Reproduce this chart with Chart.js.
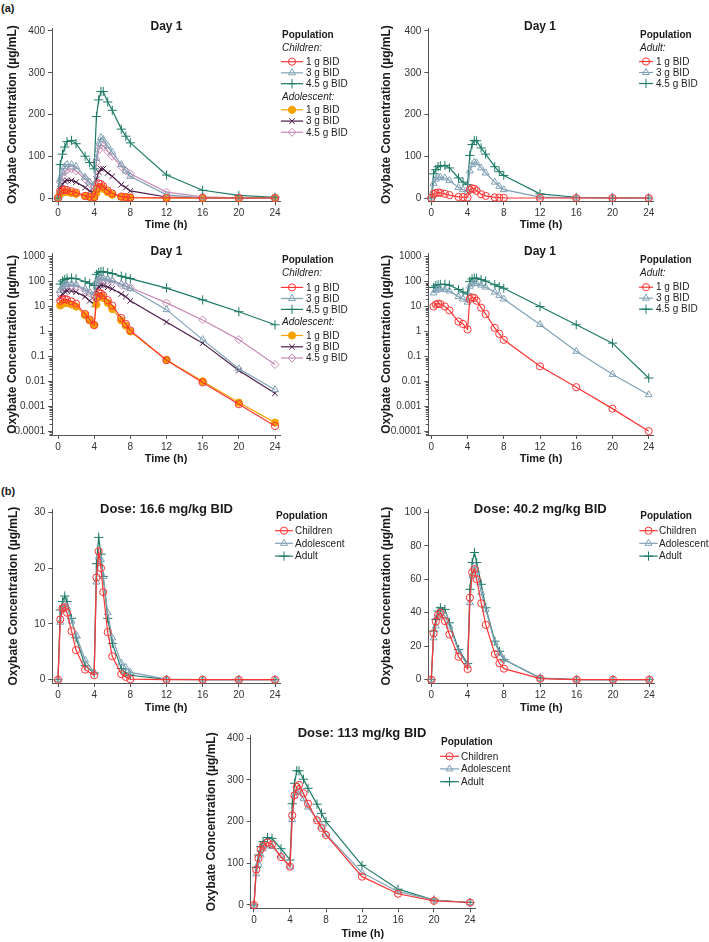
<!DOCTYPE html>
<html lang="en">
<head>
<meta charset="UTF-8">
<script src="https://cdn.jsdelivr.net/npm/chart.js"></script>
<title>Oxybate concentration</title>
<style>
  body { margin: 0; background: #fff; width: 709px; height: 942px; position: relative; overflow: hidden; }
  .lab { position: absolute; font: bold 11px "Liberation Sans", Arial, sans-serif; color: #1a1a1a; }
</style>
</head>
<body>
<div class="lab" style="left:1px;top:2px">(a)</div>
<div class="lab" style="left:1px;top:485px">(b)</div>
<script>
// ---- data ----
const timeA = [0, 0.25, 0.5, 0.75, 1, 1.5, 2, 3, 3.5, 4, 4.25, 4.5, 4.75, 5, 5.5, 6, 7, 7.5, 8, 12, 16, 20, 24];
const timeB = [0, 0.25, 0.5, 0.75, 1, 1.5, 2, 3, 4, 4.25, 4.5, 4.75, 5, 5.5, 6, 7, 7.5, 8, 12, 16, 20, 24];

// Day 1, fixed doses (µg/mL)
const child1g  = [0, 17, 19, 20, 19, 16, 13, 5, 3, 1.8, 22, 35, 33, 28, 18, 11, 3.5, 2, 1.1, 0.07, 0.009, 0.0012, 0.00016];
const child3g  = [0, 45, 62, 75, 80, 80, 75, 50, 38, 28, 95, 130, 145, 140, 125, 110, 80, 65, 52, 7.5, 0.47, 0.032, 0.0046];
const child45g = [0, 80, 105, 122, 135, 138, 130, 100, 85, 70, 195, 235, 255, 255, 230, 210, 165, 148, 132, 55, 18.5, 6.2, 1.85];
const adol1g   = [0, 11, 13, 14, 14, 12, 10, 4.5, 2.8, 1.8, 12, 25, 26, 22, 14, 8, 2.8, 1.7, 1.0, 0.072, 0.010, 0.0014, 0.00022];
const adol3g   = [0, 22, 33, 40, 42, 42, 38, 25, 17, 12, 45, 62, 70, 70, 60, 52, 32, 25, 17, 2.4, 0.34, 0.027, 0.0033];
const adol45g  = [0, 38, 52, 63, 68, 70, 65, 45, 35, 28, 85, 115, 128, 125, 112, 100, 75, 65, 58, 14, 2.9, 0.47, 0.047];
const adult1g  = [0, 10, 12, 13, 12.5, 10, 7, 2.5, 2.0, 1.2, 20, 23, 22, 17, 9, 5, 1.4, 0.8, 0.46, 0.04, 0.0058, 0.0008, 0.0001];
const adult3g  = [0, 35, 45, 50, 50, 48, 42, 25, 20, 15, 65, 80, 86, 84, 72, 60, 38, 28, 20, 1.9, 0.16, 0.019, 0.0029];
const adult45g = [0, 58, 68, 75, 77, 78, 72, 48, 38, 32, 102, 128, 138, 137, 120, 105, 75, 63, 54, 10, 1.85, 0.34, 0.0135];

// weight-based doses
const d16Child = [0, 10.8, 12.8, 13, 12, 8.7, 5.3, 1.8, 0.8, 18.3, 23, 20, 15.7, 8.5, 4.2, 1, 0.5, 0.1, 0, 0, 0, 0];
const d16Adol  = [0, 10.3, 12.5, 13.5, 13, 10.5, 8, 3.5, 1.3, 17.5, 22, 21.5, 18.5, 12, 7.5, 3, 2.2, 1.3, 0.1, 0, 0, 0];
const d16Adult = [0, 12.5, 14, 15, 14, 11, 7.5, 2.5, 1.2, 20.8, 25.5, 22.5, 18.5, 11, 6.5, 2, 1.2, 0.8, 0.05, 0, 0, 0];
const d40Child = [0, 27.7, 34.7, 38.6, 40, 35, 27, 13.7, 6.4, 49, 64, 66, 60, 45.6, 32.7, 15.3, 9.8, 6.6, 0.6, 0.02, 0, 0];
const d40Adol  = [0, 25, 32, 38, 40, 38, 32, 17, 8.5, 46, 62, 68, 65, 52, 42, 22, 16, 12, 0.8, 0.03, 0, 0];
const d40Adult = [0, 29, 36, 41, 43, 42, 34, 18, 9.6, 54, 70, 76, 70, 57, 43, 23, 17, 12, 1, 0.05, 0, 0];
const d113Child = [0, 85, 112, 133, 142, 150, 145, 115, 92, 215, 263, 283, 288, 268, 243, 203, 185, 168, 68, 27, 10, 6];
const d113Adol  = [0, 75, 98, 120, 135, 142, 140, 118, 93, 205, 262, 270, 272, 255, 235, 205, 188, 170, 78, 32, 12, 6];
const d113Adult = [0, 90, 120, 140, 152, 162, 160, 135, 108, 243, 292, 322, 322, 302, 280, 242, 220, 200, 95, 38, 12, 6];

// ticks
const xTicks = [0, 4, 8, 12, 16, 20, 24];
const ticks400 = [0, 100, 200, 300, 400];
const ticks30 = [0, 10, 20, 30];
const ticks100 = [0, 20, 40, 60, 80, 100];
const logTicks = [0.0001, 0.001, 0.01, 0.1, 1, 10, 100, 1000];

// ---- styles ----
const FONT = '"Liberation Sans", Arial, Helvetica, sans-serif';
Chart.defaults.font.family = FONT;
Chart.defaults.color = '#333';

const RED    = { color: '#ff3434', style: 'circle',   r: 3.6, fill: false };
const BLUE   = { color: '#7fa1b4', style: 'triangle', r: 4,   fill: false };
const GREEN  = { color: '#1d7a66', style: 'cross',    r: 4.6, fill: false };
const ORANGE = { color: '#f5a200', style: 'circle',   r: 3.6, fill: true };
const PURPLE = { color: '#4b1c48', style: 'crossRot', r: 4,   fill: false };
const PINK   = { color: '#c88ab4', style: 'rectRot',  r: 4,   fill: false };

function series(label, times, vals, s, log) {
  return {
    label: label,
    data: times.map((t, i) => ({ x: t, y: (log && vals[i] <= 0) ? null : vals[i] })),
    borderColor: s.color,
    borderWidth: 1.2,
    pointStyle: s.style,
    pointRadius: s.r,
    pointBorderWidth: 1,
    pointBorderColor: s.color,
    pointBackgroundColor: s.fill ? s.color : 'rgba(255,255,255,0)',
    tension: 0,
    clip: 12
  };
}

function daySeries(log) {
  return [
    series('1 g BID', timeA, child1g, RED, log),
    series('3 g BID', timeA, child3g, BLUE, log),
    series('4.5 g BID', timeA, child45g, GREEN, log),
    series('1 g BID', timeA, adol1g, ORANGE, log),
    series('3 g BID', timeA, adol3g, PURPLE, log),
    series('4.5 g BID', timeA, adol45g, PINK, log)
  ];
}
function adultSeries(log) {
  return [
    series('1 g BID', timeA, adult1g, RED, log),
    series('3 g BID', timeA, adult3g, BLUE, log),
    series('4.5 g BID', timeA, adult45g, GREEN, log)
  ];
}
function doseSeries(c, a, d) {
  return [
    series('Children', timeB, c, RED, false),
    series('Adolescent', timeB, a, BLUE, false),
    series('Adult', timeB, d, GREEN, false)
  ];
}

// titles, minor log ticks and the legend
function makeDecor(p) {
  return {
    id: 'decor',
    afterDraw(chart) {
      const ctx = chart.ctx, a = chart.chartArea;
      const ox = p.box[0], oy = p.box[1];
      ctx.save();
      ctx.fillStyle = '#1a1a1a';
      ctx.font = 'bold ' + p.titleSize + 'px ' + FONT;
      ctx.textAlign = 'center';
      ctx.textBaseline = 'middle';
      ctx.fillText(p.title, (p.x0 + p.x24) / 2 - ox, p.titleY - oy);

      if (p.log) {
        const ys = chart.scales.y;
        ctx.strokeStyle = '#555';
        ctx.lineWidth = 1;
        for (let k = -5; k <= 3; k++) {
          for (let m = 2; m <= 9; m++) {
            const v = m * Math.pow(10, k);
            if (v < ys.min || v > ys.max) continue;
            const y = Math.round(ys.getPixelForValue(v)) + 0.5;
            ctx.beginPath();
            ctx.moveTo(a.left - 2.5, y);
            ctx.lineTo(a.left, y);
            ctx.stroke();
          }
        }
      }

      const lg = p.legend;
      ctx.textAlign = 'left';
      lg.rows.forEach(row => {
        const y = row[0] - oy;
        const item = row[1];
        if (typeof item === 'string') {
          ctx.fillStyle = '#1a1a1a';
          ctx.font = (row[2] === 'i' ? 'italic ' : 'bold ') + '10px ' + FONT;
          ctx.fillText(item, lg.x - ox + 1, y);
          return;
        }
        const ds = chart.data.datasets[item];
        const x1 = lg.x - ox, x2 = lg.lineEnd - ox;
        ctx.strokeStyle = ds.borderColor;
        ctx.lineWidth = ds.borderWidth;
        ctx.beginPath();
        ctx.moveTo(x1, y);
        ctx.lineTo(x2, y);
        ctx.stroke();
        ctx.strokeStyle = ds.pointBorderColor;
        ctx.fillStyle = ds.pointBackgroundColor;
        ctx.lineWidth = ds.pointBorderWidth;
        Chart.helpers.drawPoint(ctx, {
          pointStyle: ds.pointStyle, radius: ds.pointRadius, rotation: 0, borderWidth: ds.pointBorderWidth
        }, (x1 + x2) / 2, y);
        ctx.fillStyle = '#222';
        ctx.font = '10px ' + FONT;
        ctx.fillText(ds.label, lg.textX - ox, y + 0.5);
      });
      ctx.restore();
    }
  };
}

function makePanel(p) {
  const cv = document.createElement('canvas');
  cv.width = p.box[2];
  cv.height = p.box[3];
  cv.style.cssText = 'position:absolute;left:' + p.box[0] + 'px;top:' + p.box[1] + 'px;width:' +
    p.box[2] + 'px;height:' + p.box[3] + 'px';
  document.body.appendChild(cv);

  const L = p.x0 - p.gapL, R = p.x24 + 5;
  const T = p.yHi[1] - 3, B = p.yLo[1] + 3.3;
  const pxH = (p.x24 - p.x0) / 24;
  let yMin, yMax;
  if (p.log) {
    const lo = Math.log10(p.yLo[0]), hi = Math.log10(p.yHi[0]);
    const pd = (p.yLo[1] - p.yHi[1]) / (hi - lo);
    yMin = Math.pow(10, lo - 3.3 / pd);
    yMax = Math.pow(10, hi + 3 / pd);
  } else {
    const pu = (p.yLo[1] - p.yHi[1]) / (p.yHi[0] - p.yLo[0]);
    yMin = p.yLo[0] - 3.3 / pu;
    yMax = p.yHi[0] + 3 / pu;
  }
  const yLeft = p.yTitleX - 7.2;
  const xBottom = p.xTitleY + 6.6;
  const axisGrid = { display: true, drawOnChartArea: false, drawTicks: true, tickLength: 4, color: '#555' };
  const axisBorder = { display: true, color: '#555', width: 1 };

  new Chart(cv, {
    type: 'line',
    data: { datasets: p.datasets },
    options: {
      responsive: false,
      animation: false,
      devicePixelRatio: 1,
      layout: {
        padding: {
          left: yLeft - p.box[0],
          right: p.box[0] + p.box[2] - R,
          top: T - p.box[1],
          bottom: p.box[1] + p.box[3] - xBottom
        }
      },
      plugins: { legend: { display: false }, tooltip: { enabled: false } },
      scales: {
        x: {
          type: 'linear',
          min: -p.gapL / pxH,
          max: 24 + 5 / pxH,
          afterBuildTicks: s => { s.ticks = xTicks.map(v => ({ value: v })); },
          afterFit: s => { s.height = xBottom - B; },
          ticks: { font: { size: 10 }, color: '#333', padding: 2, autoSkip: false, maxRotation: 0 },
          grid: axisGrid,
          border: axisBorder,
          title: { display: true, text: 'Time (h)', color: '#1a1a1a', padding: 0, font: { size: 11, weight: 'bold' } }
        },
        y: {
          type: p.log ? 'logarithmic' : 'linear',
          min: yMin,
          max: yMax,
          afterBuildTicks: s => { s.ticks = p.yTicks.map(v => ({ value: v })); },
          afterFit: s => { s.width = L - yLeft; },
          ticks: {
            font: { size: 10 }, color: '#333', padding: 3, autoSkip: false,
            callback: v => String(v)
          },
          grid: axisGrid,
          border: axisBorder,
          title: { display: true, text: 'Oxybate Concentration (µg/mL)', color: '#1a1a1a', padding: 0, font: { size: 12, weight: 'bold' } }
        }
      }
    },
    plugins: [makeDecor(p)]
  });
}

const legendDay = (top, x, lineEnd, textX, sp) => ({
  x: x, lineEnd: lineEnd, textX: textX,
  rows: [[top, 'Population'], [top + 13, 'Children:', 'i'], [top + 26.7, 0], [top + 37.8, 1], [top + 48.7, 2],
         [top + 62, 'Adolescent:', 'i'], [top + 74.8, 3], [top + 86.1, 4], [top + 97.3, 5]]
});
const legendAdult = (top, x, lineEnd, textX) => ({
  x: x, lineEnd: lineEnd, textX: textX,
  rows: [[top, 'Population'], [top + 13, 'Adult:', 'i'], [top + 26.5, 0], [top + 37.5, 1], [top + 48.5, 2]]
});
const legendDose = (top, x, lineEnd, textX) => ({
  x: x, lineEnd: lineEnd, textX: textX,
  rows: [[top, 'Population'], [top + 14, 0], [top + 26.6, 1], [top + 39.4, 2]]
});

const panels = [
  { box: [0, 12, 360, 222], x0: 58, x24: 275, gapL: 6, yLo: [0, 198], yHi: [400, 31], yTicks: ticks400,
    yTitleX: 13, xTitleY: 225, title: 'Day 1', titleSize: 12, titleY: 27,
    datasets: daySeries(false), legend: legendDay(35, 281, 303, 306) },
  { box: [360, 12, 349, 222], x0: 431.3, x24: 648.7, gapL: 3, yLo: [0, 198], yHi: [400, 31], yTicks: ticks400,
    yTitleX: 387, xTitleY: 225, title: 'Day 1', titleSize: 12, titleY: 27,
    datasets: adultSeries(false), legend: legendAdult(35, 639, 653, 656) },
  { box: [0, 238, 360, 230], x0: 58, x24: 275, gapL: 6, yLo: [0.0001, 431.7], yHi: [1000, 256.7], yTicks: logTicks, log: true,
    yTitleX: 13, xTitleY: 459.3, title: 'Day 1', titleSize: 12, titleY: 251.7,
    datasets: daySeries(true), legend: legendDay(260.7, 281, 303, 306) },
  { box: [360, 238, 349, 230], x0: 431.3, x24: 648.7, gapL: 3, yLo: [0.0001, 431.7], yHi: [1000, 256.7], yTicks: logTicks, log: true,
    yTitleX: 387, xTitleY: 459.3, title: 'Day 1', titleSize: 12, titleY: 251.7,
    datasets: adultSeries(true), legend: legendAdult(260.7, 639, 653, 656) },
  { box: [0, 470, 360, 250], x0: 58, x24: 275, gapL: 5.7, yLo: [0, 679.7], yHi: [30, 512.3], yTicks: ticks30,
    yTitleX: 13.3, xTitleY: 708, title: 'Dose: 16.6 mg/kg BID', titleSize: 13, titleY: 509.3,
    datasets: doseSeries(d16Child, d16Adol, d16Adult), legend: legendDose(516.7, 275, 293, 295) },
  { box: [360, 470, 349, 250], x0: 431.3, x24: 649.3, gapL: 3, yLo: [0, 679.7], yHi: [100, 512.3], yTicks: ticks100,
    yTitleX: 386.7, xTitleY: 708, title: 'Dose: 40.2 mg/kg BID', titleSize: 13, titleY: 509.3,
    datasets: doseSeries(d40Child, d40Adol, d40Adult), legend: legendDose(516.7, 639.3, 657.7, 659) },
  { box: [180, 700, 360, 242], x0: 254, x24: 470, gapL: 3.3, yLo: [0, 905], yHi: [400, 738.3], yTicks: ticks400,
    yTitleX: 211.7, xTitleY: 934.3, title: 'Dose: 113 mg/kg BID', titleSize: 13, titleY: 733.3,
    datasets: doseSeries(d113Child, d113Adol, d113Adult), legend: legendDose(742.3, 440, 459, 461) }
];

panels.forEach(makePanel);
</script>
</body>
</html>
